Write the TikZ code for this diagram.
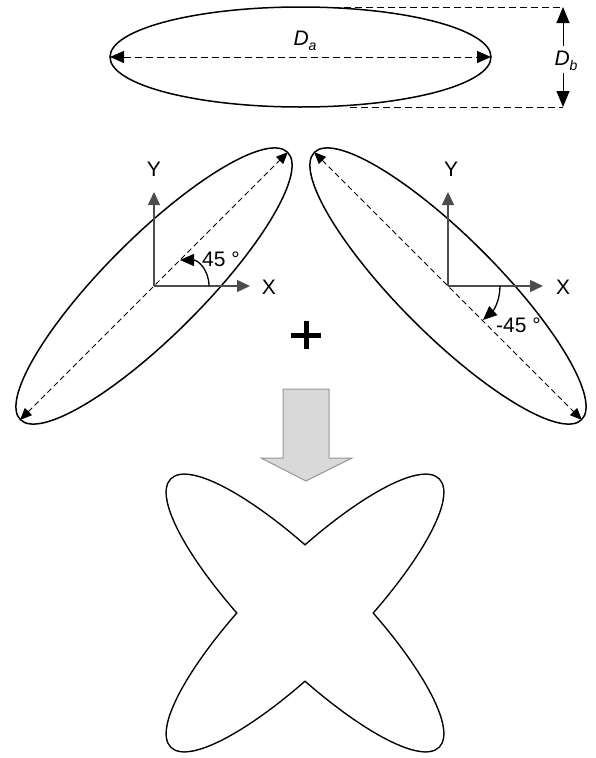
\documentclass[tikz,border=0pt]{standalone}
\usepackage{fontspec}
\setmainfont{Liberation Sans}
\usetikzlibrary{arrows.meta}
\tikzset{
  outline/.style={line width=1.5pt},
  dimline/.style={line width=1pt, dash pattern=on 7pt off 4pt},
  axisdash/.style={line width=1pt, dash pattern=on 5.5pt off 3.5pt},
  dblbig/.style={{Triangle[length=14pt,width=12pt]}-{Triangle[length=14pt,width=12pt]}},
  dblsmall/.style={{Triangle[length=12pt,width=10pt]}-{Triangle[length=12pt,width=10pt]}},
  onebig/.style={-{Triangle[length=16pt,width=13pt]}},
  axisline/.style={line width=1.3pt, draw=black!70, -{Triangle[length=13pt,width=12pt]}},
  anglearc/.style={line width=1.3pt, -{Triangle[length=14pt,width=12pt]}},
  lbl/.style={font=\fontsize{21}{23}\selectfont, inner sep=0pt},
}
\begin{document}
\begin{tikzpicture}[x=1pt,y=-1pt]
\useasboundingbox (0,0) rectangle (595,758);

% ---------- top ellipse ----------
\coordinate (tc) at (300.5,57);
\draw[outline] (tc) ellipse [x radius=190.5, y radius=50];
\coordinate (tl) at (110,57);
\coordinate (tr) at (491,57);
\draw[dimline, dblbig] (tl) -- (tr);
\node[lbl] (da) at (305,41) {\itshape D\raisebox{-0.4ex}{\fontsize{14}{14}\selectfont a}};
\coordinate (tt) at (333,7);
\coordinate (tb) at (350,107);
\coordinate (rt) at (563,7);
\coordinate (rb) at (563,107);
\draw[dimline] (tt) -- (rt);
\draw[dimline] (tb) -- (rb);
\node[lbl] (db) at (566,61) {\itshape D\raisebox{-0.4ex}{\fontsize{14}{14}\selectfont b}};
\coordinate (du) at (563,46);
\coordinate (dl) at (563,73);
\draw[line width=1pt, onebig] (du) -- (rt);
\draw[line width=1pt, onebig] (dl) -- (rb);

% ---------- left tilted ellipse ----------
\coordinate (lo) at (154,286);
\draw[outline, rotate around={45:(lo)}] (lo) ellipse [x radius=189, y radius=49];
\coordinate (la) at (288,152);
\coordinate (lb) at (20,420);
\draw[axisdash, dblsmall] (lb) -- (la);
\coordinate (ly) at (154,192);
\coordinate (lx) at (250,286);
\draw[axisline] (lo) -- (ly);
\draw[axisline] (lo) -- (lx);
\node[lbl] (lyl) at (154,169) {Y};
\node[lbl] (lxl) at (269,287) {X};
\coordinate (las) at (209,286);
\coordinate (lae) at (180,260);
\draw[anglearc] (las) .. controls (209,270) and (198,260) .. (lae);
\node[lbl, anchor=west] (lang) at (202,259) {45 °};

% ---------- right tilted ellipse ----------
\coordinate (ro) at (448,286);
\draw[outline, rotate around={-45:(ro)}] (ro) ellipse [x radius=189, y radius=49];
\coordinate (ra) at (314,152);
\coordinate (rbb) at (582,420);
\draw[axisdash, dblsmall] (ra) -- (rbb);
\coordinate (ry) at (448,192);
\coordinate (rx) at (543,286);
\draw[axisline] (ro) -- (ry);
\draw[axisline] (ro) -- (rx);
\node[lbl] (ryl) at (451,169) {Y};
\node[lbl] (rxl) at (563,287) {X};
\coordinate (ras) at (500,286);
\coordinate (rae) at (483,320);
\draw[anglearc] (ras) .. controls (500,300) and (494,310) .. (rae);
\node[lbl, anchor=west] (rang) at (496,325) {-45 °};

% ---------- plus ----------
\coordinate (ph1) at (291,335);
\coordinate (ph2) at (321,335);
\coordinate (pv1) at (306,321);
\coordinate (pv2) at (306,349);
\draw[line width=5pt] (ph1) -- (ph2);
\draw[line width=5pt] (pv1) -- (pv2);

% ---------- block arrow ----------
\draw[fill={rgb,255:red,217;green,217;blue,217}, draw={rgb,255:red,150;green,150;blue,150}, line width=1pt]
  (283,389) -- (329,389) -- (329,458) -- (352,458) -- (306,481) -- (261,458) -- (283,458) -- cycle;

% ---------- cross (union of two ellipses) ----------
\coordinate (cc) at (305,613);
\draw[line width=3pt, rotate around={45:(cc)}] (cc) ellipse [x radius=189, y radius=49];
\draw[line width=3pt, rotate around={-45:(cc)}] (cc) ellipse [x radius=189, y radius=49];
\fill[white, rotate around={45:(cc)}] (cc) ellipse [x radius=189, y radius=49];
\fill[white, rotate around={-45:(cc)}] (cc) ellipse [x radius=189, y radius=49];
\end{tikzpicture}
\end{document}
